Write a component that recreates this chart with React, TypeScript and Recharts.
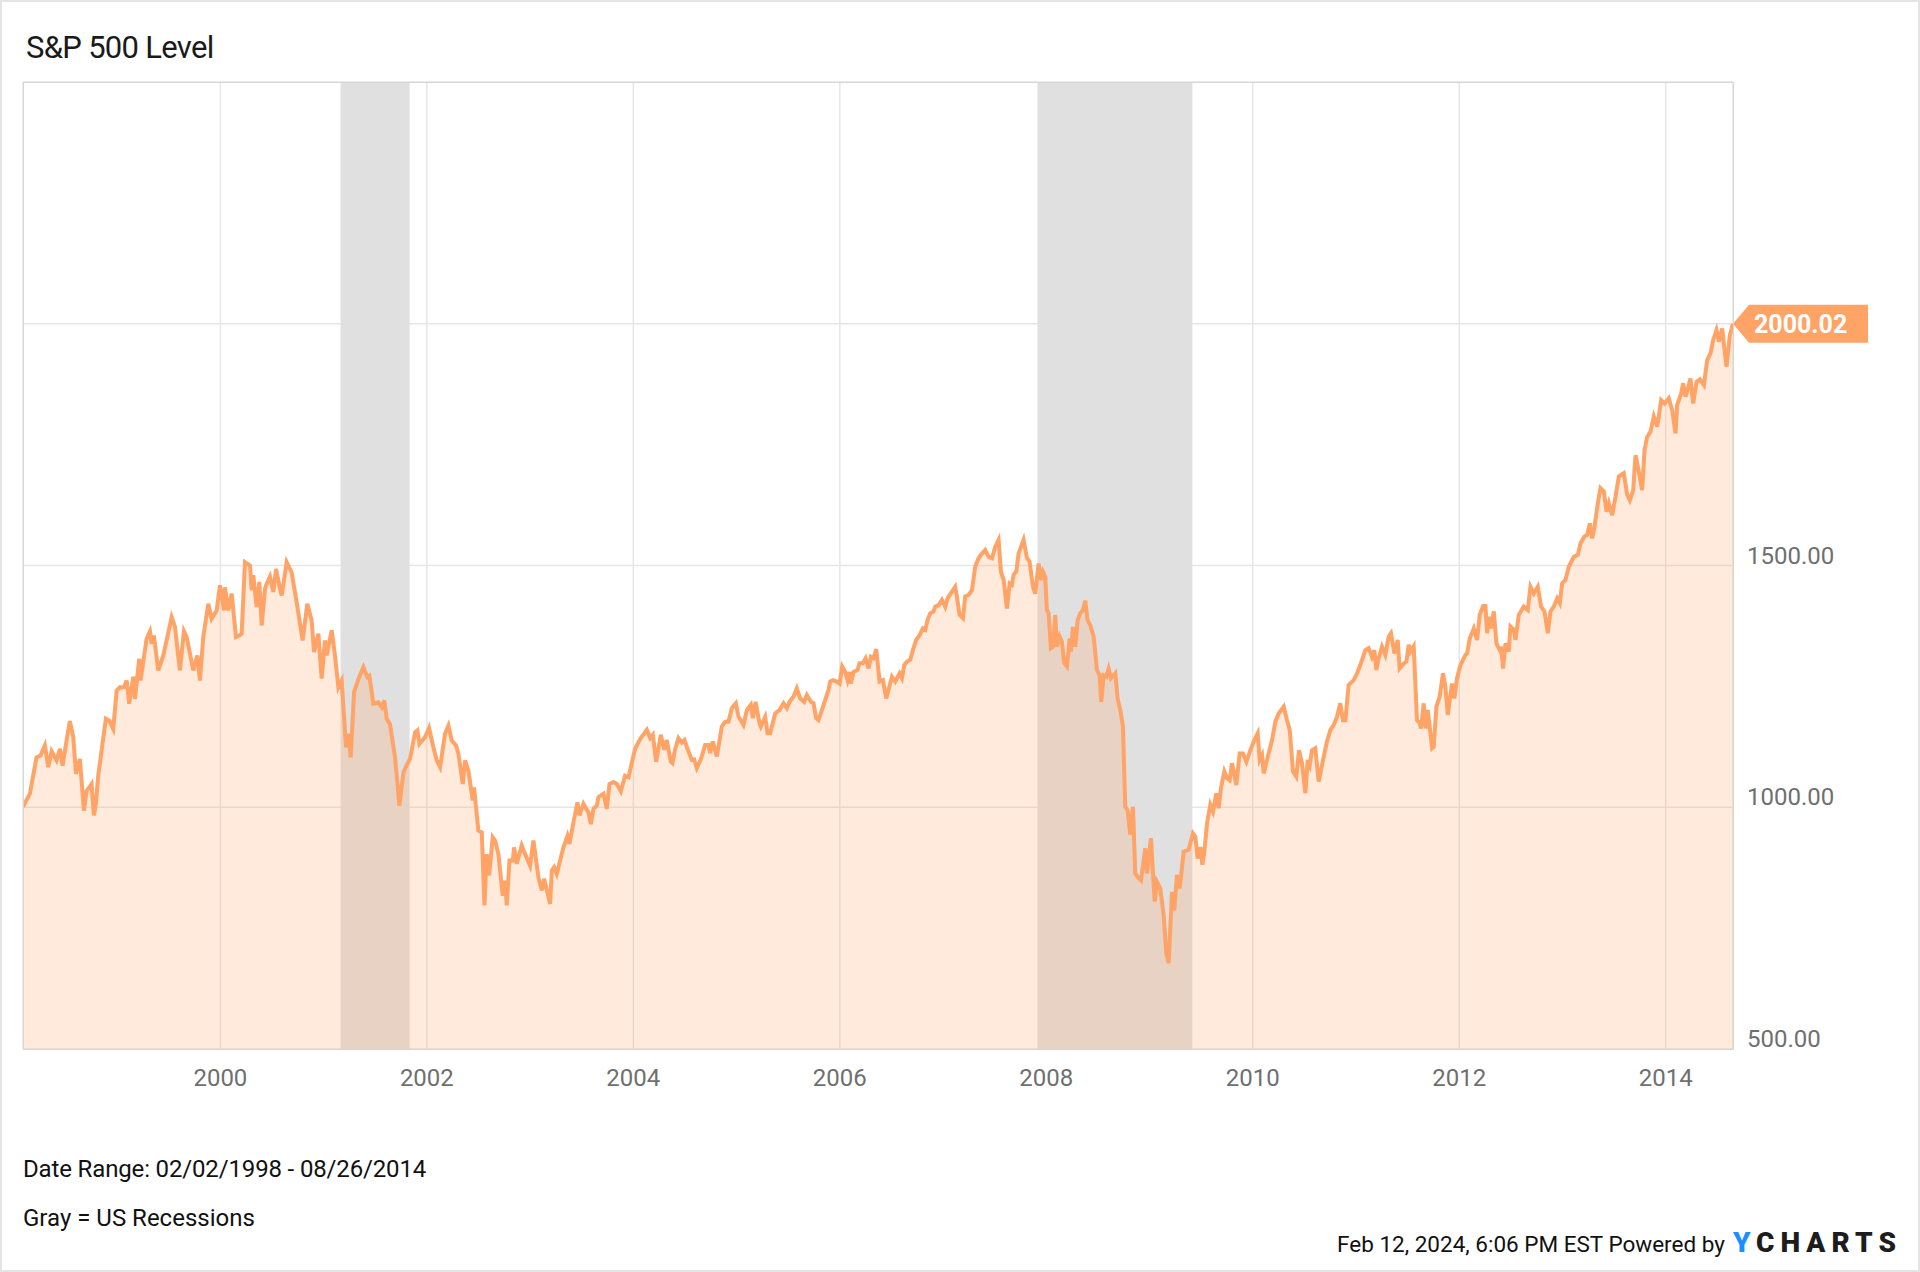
import React from 'react';
import {
  ComposedChart,
  Area,
  XAxis,
  YAxis,
  CartesianGrid,
  ReferenceArea,
  ReferenceDot,
} from 'recharts';

// time as decimal year, S&P 500 level
const years = [
  1998.088, 1998.155, 1998.219, 1998.258, 1998.3, 1998.333, 1998.365, 1998.413, 1998.446, 1998.471, 1998.51, 1998.542, 1998.575, 1998.601, 1998.639, 1998.678, 1998.704, 1998.72, 1998.752, 1998.775, 1998.794, 1998.817, 1998.849, 1998.891, 1998.924, 1998.962, 1998.995,
  1999.027, 1999.066, 1999.092, 1999.117, 1999.156, 1999.172, 1999.214, 1999.227, 1999.285, 1999.318, 1999.334, 1999.356, 1999.398, 1999.447, 1999.479, 1999.528, 1999.56, 1999.608, 1999.647, 1999.673, 1999.738, 1999.776, 1999.802, 1999.834, 1999.883, 1999.915, 1999.964, 1999.996,
  2000.035, 2000.044, 2000.077, 2000.109, 2000.151, 2000.183, 2000.206, 2000.238, 2000.287, 2000.303, 2000.319, 2000.351, 2000.377, 2000.4, 2000.432, 2000.448, 2000.48, 2000.513, 2000.539, 2000.577, 2000.594, 2000.642, 2000.69, 2000.739, 2000.771, 2000.797, 2000.842, 2000.884, 2000.907, 2000.949, 2000.981,
  2001.013, 2001.03, 2001.078, 2001.11, 2001.143, 2001.175, 2001.217, 2001.24, 2001.262, 2001.295, 2001.337, 2001.385, 2001.424, 2001.443, 2001.482, 2001.53, 2001.563, 2001.588, 2001.611, 2001.643, 2001.692, 2001.734, 2001.773, 2001.811, 2001.837, 2001.886, 2001.908, 2001.928, 2001.983,
  2002.021, 2002.063, 2002.096, 2002.128, 2002.176, 2002.209, 2002.241, 2002.283, 2002.306, 2002.348, 2002.37, 2002.402, 2002.444, 2002.457, 2002.499, 2002.532, 2002.558, 2002.58, 2002.603, 2002.638, 2002.661, 2002.693, 2002.735, 2002.758, 2002.774, 2002.8, 2002.832, 2002.845, 2002.871, 2002.919, 2002.952,
  2003.0, 2003.032, 2003.081, 2003.113, 2003.136, 2003.194, 2003.21, 2003.233, 2003.258, 2003.291, 2003.323, 2003.362, 2003.381, 2003.42, 2003.459, 2003.478, 2003.517, 2003.543, 2003.565, 2003.588, 2003.614, 2003.646, 2003.662, 2003.711, 2003.743, 2003.769, 2003.808, 2003.84, 2003.879, 2003.92, 2003.953,
  2004.017, 2004.066, 2004.131, 2004.163, 2004.189, 2004.221, 2004.266, 2004.299, 2004.324, 2004.363, 2004.379, 2004.405, 2004.437, 2004.47, 2004.496, 2004.528, 2004.567, 2004.589, 2004.615, 2004.654, 2004.696, 2004.728, 2004.744, 2004.77, 2004.809, 2004.857, 2004.89, 2004.922, 2004.954, 2004.993,
  2005.019, 2005.041, 2005.067, 2005.1, 2005.138, 2005.158, 2005.184, 2005.222, 2005.235, 2005.277, 2005.3, 2005.326, 2005.374, 2005.416, 2005.455, 2005.487, 2005.513, 2005.552, 2005.584, 2005.616, 2005.655, 2005.681, 2005.72, 2005.746, 2005.771, 2005.794, 2005.826, 2005.859, 2005.891, 2005.907, 2005.933, 2005.972, 2005.998,
  2006.023, 2006.052, 2006.075, 2006.094, 2006.107, 2006.133, 2006.172, 2006.191, 2006.224, 2006.25, 2006.279, 2006.301, 2006.327, 2006.353, 2006.385, 2006.418, 2006.45, 2006.472, 2006.505, 2006.537, 2006.579, 2006.602, 2006.624, 2006.65, 2006.682, 2006.708, 2006.74, 2006.773, 2006.805, 2006.828, 2006.85, 2006.876, 2006.908, 2006.925, 2006.957, 2006.989,
  2007.021, 2007.044, 2007.086, 2007.118, 2007.134, 2007.16, 2007.193, 2007.215, 2007.248, 2007.28, 2007.312, 2007.344, 2007.367, 2007.409, 2007.441, 2007.474, 2007.506, 2007.538, 2007.561, 2007.587, 2007.619, 2007.645, 2007.667, 2007.684, 2007.709, 2007.732, 2007.78, 2007.813, 2007.838, 2007.871, 2007.893, 2007.926, 2007.948, 2007.968, 2007.99,
  2008.006, 2008.023, 2008.045, 2008.065, 2008.087, 2008.103, 2008.129, 2008.152, 2008.174, 2008.2, 2008.226, 2008.239, 2008.258, 2008.281, 2008.304, 2008.329, 2008.355, 2008.378, 2008.4, 2008.426, 2008.459, 2008.491, 2008.517, 2008.533, 2008.555, 2008.581, 2008.604, 2008.627, 2008.669, 2008.691, 2008.717, 2008.743, 2008.765, 2008.788, 2008.814, 2008.84, 2008.862, 2008.885, 2008.917, 2008.959, 2008.975,
  2009.014, 2009.05, 2009.072, 2009.105, 2009.137, 2009.163, 2009.185, 2009.218, 2009.24, 2009.266, 2009.292, 2009.331, 2009.379, 2009.421, 2009.444, 2009.466, 2009.492, 2009.512, 2009.531, 2009.557, 2009.589, 2009.615, 2009.647, 2009.67, 2009.692, 2009.725, 2009.751, 2009.776, 2009.799, 2009.841, 2009.873, 2009.906, 2009.938, 2009.977,
  2010.009, 2010.048, 2010.067, 2010.09, 2010.106, 2010.138, 2010.187, 2010.219, 2010.251, 2010.3, 2010.332, 2010.358, 2010.39, 2010.422, 2010.448, 2010.477, 2010.51, 2010.532, 2010.552, 2010.574, 2010.606, 2010.639, 2010.681, 2010.719, 2010.752, 2010.784, 2010.816, 2010.848, 2010.874, 2010.897, 2010.929, 2010.978,
  2011.01, 2011.042, 2011.091, 2011.123, 2011.155, 2011.178, 2011.197, 2011.22, 2011.252, 2011.284, 2011.317, 2011.339, 2011.372, 2011.404, 2011.423, 2011.462, 2011.488, 2011.511, 2011.527, 2011.559, 2011.591, 2011.617, 2011.63, 2011.656, 2011.675, 2011.695, 2011.714, 2011.737, 2011.753, 2011.779, 2011.811, 2011.843, 2011.866, 2011.889, 2011.908, 2011.93, 2011.953, 2011.979,
  2012.012, 2012.06, 2012.076, 2012.102, 2012.141, 2012.173, 2012.199, 2012.231, 2012.254, 2012.27, 2012.296, 2012.309, 2012.335, 2012.361, 2012.393, 2012.406, 2012.425, 2012.448, 2012.48, 2012.496, 2012.529, 2012.545, 2012.577, 2012.625, 2012.664, 2012.69, 2012.722, 2012.761, 2012.793, 2012.826, 2012.858, 2012.884, 2012.916, 2012.949, 2012.974, 2012.997,
  2013.029, 2013.062, 2013.11, 2013.149, 2013.175, 2013.213, 2013.239, 2013.265, 2013.288, 2013.31, 2013.343, 2013.368, 2013.401, 2013.427, 2013.449, 2013.481, 2013.514, 2013.546, 2013.594, 2013.627, 2013.653, 2013.685, 2013.708, 2013.74, 2013.772, 2013.795, 2013.82, 2013.853, 2013.885, 2013.918, 2013.956, 2013.989,
  2014.03, 2014.063, 2014.095, 2014.111, 2014.15, 2014.169, 2014.192, 2014.215, 2014.24, 2014.266, 2014.299, 2014.331, 2014.37, 2014.402, 2014.434, 2014.46, 2014.492, 2014.515, 2014.547, 2014.57, 2014.589, 2014.622, 2014.652,
];

const levels = [
  1001, 1028, 1103, 1107, 1128, 1083, 1116, 1097, 1121, 1086, 1138, 1178, 1145, 1069, 1100, 993, 1034, 1038, 1048, 983, 1007, 1066, 1117, 1183, 1179, 1162, 1241,
  1248, 1248, 1262, 1214, 1270, 1224, 1307, 1262, 1348, 1364, 1338, 1355, 1283, 1314, 1345, 1393, 1373, 1283, 1364, 1352, 1283, 1314, 1262, 1352, 1421, 1390, 1407, 1459,
  1407, 1455, 1407, 1442, 1352, 1355, 1359, 1507, 1500, 1449, 1480, 1414, 1466, 1376, 1452, 1462, 1477, 1445, 1493, 1452, 1438, 1507, 1486, 1424, 1380, 1345, 1421, 1386, 1321, 1359, 1266,
  1345, 1314, 1366, 1314, 1248, 1262, 1124, 1152, 1103, 1238, 1265, 1290, 1269, 1272, 1214, 1217, 1207, 1221, 1183, 1172, 1103, 1003, 1072, 1090, 1100, 1155, 1159, 1131, 1145,
  1164, 1124, 1097, 1083, 1152, 1169, 1138, 1128, 1110, 1048, 1097, 1076, 1014, 1041, 952, 948, 797, 903, 859, 938, 931, 903, 817, 848, 797, 890, 890, 917, 883, 921, 903,
  879, 931, 855, 828, 852, 800, 869, 876, 862, 890, 917, 941, 924, 969, 1010, 983, 1007, 997, 990, 965, 997, 1003, 1021, 1028, 997, 1048, 1052, 1048, 1033, 1065, 1062,
  1121, 1141, 1160, 1143, 1150, 1094, 1150, 1119, 1139, 1094, 1091, 1120, 1143, 1134, 1139, 1119, 1098, 1099, 1081, 1099, 1129, 1129, 1112, 1136, 1105, 1167, 1177, 1177, 1205, 1215,
  1187, 1180, 1170, 1201, 1212, 1184, 1218, 1174, 1167, 1187, 1153, 1153, 1194, 1201, 1215, 1205, 1218, 1229, 1246, 1225, 1218, 1232, 1218, 1215, 1184, 1180, 1201, 1222, 1243, 1260, 1263, 1260, 1256,
  1291, 1280, 1263, 1280, 1256, 1280, 1284, 1298, 1298, 1308, 1287, 1311, 1308, 1327, 1260, 1263, 1225, 1243, 1270, 1260, 1277, 1267, 1294, 1301, 1305, 1325, 1346, 1356, 1370, 1367, 1387, 1401, 1405, 1415, 1418, 1429,
  1415, 1432, 1446, 1456, 1436, 1398, 1391, 1436, 1439, 1449, 1498, 1515, 1522, 1532, 1518, 1515, 1539, 1553, 1487, 1470, 1411, 1463, 1460, 1481, 1487, 1525, 1553, 1515, 1508, 1456, 1442, 1504, 1470, 1487, 1477,
  1408, 1401, 1329, 1332, 1398, 1332, 1353, 1342, 1298, 1291, 1349, 1322, 1373, 1332, 1387, 1401, 1408, 1427, 1387, 1377, 1353, 1284, 1273, 1218, 1273, 1270, 1287, 1267, 1277, 1225, 1201, 1167, 1001, 994, 943, 1001, 863, 856, 849, 915, 863,
  936, 805, 846, 832, 777, 698, 677, 825, 787, 860, 832, 908, 912, 946, 939, 894, 918, 881, 908, 967, 1005, 991, 1029, 998, 1039, 1074, 1060, 1056, 1091, 1046, 1111, 1111, 1094, 1118,
  1136, 1153, 1098, 1108, 1070, 1098, 1139, 1177, 1194, 1208, 1180, 1160, 1074, 1063, 1118, 1091, 1029, 1098, 1087, 1118, 1122, 1053, 1098, 1136, 1160, 1170, 1187, 1215, 1180, 1180, 1253, 1263,
  1277, 1294, 1325, 1329, 1311, 1325, 1284, 1308, 1332, 1315, 1353, 1360, 1318, 1346, 1287, 1297, 1301, 1336, 1322, 1333, 1180, 1174, 1163, 1215, 1163, 1201, 1167, 1122, 1125, 1208, 1229, 1277, 1249, 1191, 1222, 1256, 1225, 1267,
  1294, 1315, 1318, 1349, 1370, 1346, 1398, 1416, 1416, 1360, 1394, 1370, 1405, 1339, 1325, 1332, 1287, 1339, 1322, 1374, 1367, 1346, 1398, 1415, 1408, 1456, 1442, 1456, 1415, 1405, 1360, 1405, 1415, 1432, 1422, 1463,
  1470, 1498, 1518, 1522, 1546, 1560, 1563, 1587, 1556, 1580, 1629, 1660, 1653, 1611, 1629, 1604, 1642, 1684, 1691, 1646, 1635, 1656, 1728, 1694, 1656, 1739, 1766, 1777, 1808, 1787, 1842, 1835,
  1846, 1821, 1773, 1832, 1856, 1877, 1849, 1866, 1887, 1835, 1880, 1885, 1873, 1925, 1939, 1966, 1987, 1963, 1990, 1946, 1911, 1977, 2000.02,
];

// US recessions (NBER), decimal years
const recessionFrom = [2001.164, 2007.915];
const recessionTo = [2001.833, 2009.415];

const yearTicks = [2000, 2002, 2004, 2006, 2008, 2010, 2012, 2014];
const levelTicks = [500, 1000, 1500, 2000];

const ORANGE = '#FFA366';
const FONT = 'Roboto, "Noto Sans", Arial, sans-serif';
const AXIS_GRAY = '#6f6f6f';

const data = years.map((t, i) => ({ t, level: levels[i] }));
const lastT = years[years.length - 1];
const lastLevel = levels[levels.length - 1];

const XTick = (props: any) => {
  const { x, y, payload } = props;
  return (
    <text x={x} y={y} dy={17} textAnchor="middle" fill={AXIS_GRAY} fontSize={24} fontFamily={FONT}>
      {Math.round(payload.value)}
    </text>
  );
};

const YTick = (props: any) => {
  const { x, y, payload } = props;
  return (
    <text x={x} y={y} dy={-2} textAnchor="start" fill={AXIS_GRAY} fontSize={24} fontFamily={FONT}>
      {Number(payload.value).toFixed(2)}
    </text>
  );
};

const PriceTag = (props: any) => {
  const { cx, cy } = props;
  const pts = [
    [cx, cy],
    [cx + 16, cy - 19],
    [cx + 135, cy - 19],
    [cx + 135, cy + 19],
    [cx + 16, cy + 19],
  ]
    .map((p) => p.join(','))
    .join(' ');
  return (
    <g>
      <polygon points={pts} fill={ORANGE} />
      <text x={cx + 21} y={cy + 9} fill="#fff" fontSize={25} fontWeight={700} fontFamily={FONT}>
        {lastLevel.toFixed(2)}
      </text>
    </g>
  );
};

const textStyle: React.CSSProperties = {
  position: 'absolute',
  fontFamily: FONT,
  fontSize: 24,
  lineHeight: '24px',
  color: '#111',
  whiteSpace: 'nowrap',
};

export default function App() {
  return (
    <div
      style={{
        position: 'absolute',
        left: 0,
        top: 0,
        width: 1920,
        height: 1272,
        background: '#fff',
        border: '2px solid #e4e4e4',
        boxSizing: 'border-box',
        overflow: 'hidden',
      }}
    >
      <div
        style={{
          ...textStyle,
          left: 24,
          top: 30,
          fontSize: 31,
          lineHeight: '31px',
          letterSpacing: -0.7,
          color: '#1a1a1a',
        }}
      >
        S&amp;P 500 Level
      </div>

      <div style={{ position: 'absolute', left: -2, top: -2 }}>
        <ComposedChart
          width={1920}
          height={1272}
          data={data}
          margin={{ top: 82, right: 0, bottom: 163, left: 23 }}
        >
          <CartesianGrid stroke="#e6e6e6" strokeWidth={1.5} />
          {recessionFrom.map((from, i) => (
            <ReferenceArea
              key={from}
              x1={from}
              x2={recessionTo[i]}
              fill="#e0e0e0"
              fillOpacity={1}
              stroke="none"
              ifOverflow="hidden"
            />
          ))}
          <XAxis
            dataKey="t"
            type="number"
            domain={[years[0], lastT]}
            ticks={yearTicks}
            interval={0}
            allowDataOverflow
            height={60}
            axisLine={false}
            tickLine={false}
            tickSize={0}
            tickMargin={20}
            tick={<XTick />}
          />
          <YAxis
            orientation="right"
            domain={[500, 2500]}
            ticks={levelTicks}
            allowDataOverflow
            width={187}
            axisLine={false}
            tickLine={false}
            tickSize={0}
            tickMargin={14}
            tick={<YTick />}
          />
          <Area
            type="linear"
            dataKey="level"
            stroke={ORANGE}
            strokeWidth={4}
            fill={ORANGE}
            fillOpacity={0.23}
            dot={false}
            activeDot={false}
            isAnimationActive={false}
          />
          <ReferenceDot
            x={lastT}
            y={lastLevel}
            r={0}
            ifOverflow="visible"
            zIndex={3000}
            shape={(p: any) => <PriceTag cx={p.cx} cy={p.cy} />}
          />
        </ComposedChart>
      </div>

      {/* plot frame */}
      <div
        style={{
          position: 'absolute',
          left: 21,
          top: 80,
          width: 1711,
          height: 968,
          border: '1.5px solid #d6d6d6',
          boxSizing: 'border-box',
          pointerEvents: 'none',
        }}
      />

      <div style={{ ...textStyle, left: 21, top: 1155, letterSpacing: -0.15 }}>
        Date Range: 02/02/1998 - 08/26/2014
      </div>
      <div style={{ ...textStyle, left: 21, top: 1204 }}>Gray = US Recessions</div>

      <div
        style={{
          ...textStyle,
          right: 16,
          top: 1229,
          fontSize: 22.5,
          display: 'flex',
          alignItems: 'baseline',
        }}
      >
        <span>Feb 12, 2024, 6:06 PM EST Powered by</span>
        <span style={{ marginLeft: 8, fontSize: 28, fontWeight: 900, letterSpacing: 6 }}>
          <span style={{ color: '#1a8fff' }}>Y</span>
          <span style={{ color: '#1d1d1d' }}>CHARTS</span>
        </span>
      </div>
    </div>
  );
}
